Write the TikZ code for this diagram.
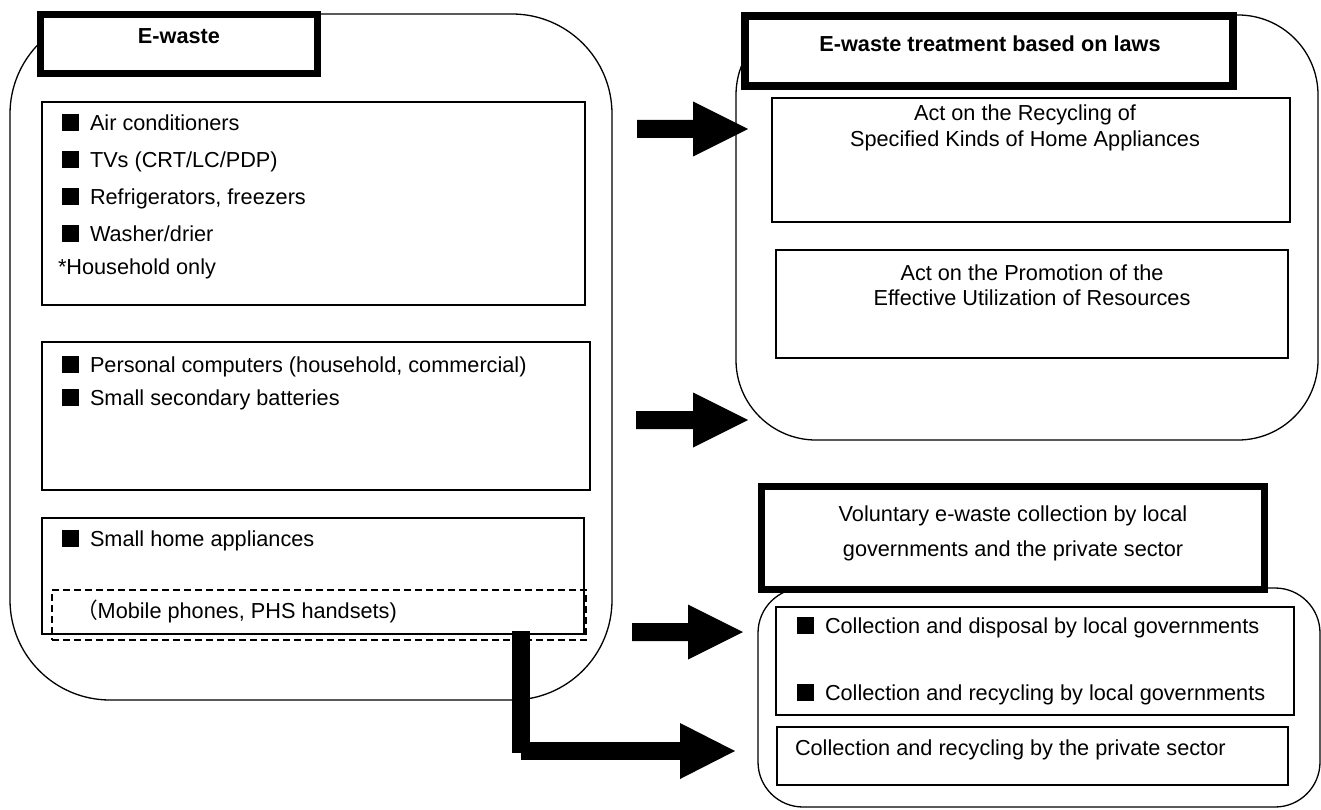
\documentclass[tikz,border=0pt]{standalone}
\usepackage{fontspec}
\setmainfont{Liberation Sans}
\newfontfamily\cjkfont{Noto Sans CJK JP}
\usetikzlibrary{calc}
\newcommand\bul{\rule[-0.5pt]{17pt}{17pt}\hspace{11pt}}
\newcommand\BlockArr[2]{\fill ($(#1 |- #2)+(0,-9)$) -- ($(#2)+(-55,-9)$) -- ($(#2)+(-55,-27.5)$) -- (#2) -- ($(#2)+(-55,27.5)$) -- ($(#2)+(-55,9)$) -- ($(#1 |- #2)+(0,9)$) -- cycle;}
\begin{document}
\begin{tikzpicture}[x=1pt,y=-1pt,
  every node/.style={inner sep=0pt, outer sep=0pt, font=\fontsize{21.7}{26}\selectfont},
  box/.style={draw, line width=1.3pt, anchor=north west},
  headbox/.style={draw, line width=7pt, fill=white, anchor=north west},
  groupbox/.style={draw, line width=1.3pt, anchor=north west},
  txt/.style={anchor=base west},
  ctxt/.style={anchor=base}]
\useasboundingbox (0,0) rectangle (1321,810);
% ---------- left group ----------
\node[groupbox, rounded corners=100pt, minimum width=602pt, minimum height=686pt] (ewaste) at (10,14) {};
\node[headbox, minimum width=277pt, minimum height=59pt] (ewhead) at (40.5,14.5) {};
\node[ctxt, font=\fontsize{21.7}{26}\selectfont\bfseries] (ewtitle) at (179,44) {E-waste};
\node[box, minimum width=543pt, minimum height=203pt] (box1) at (42,102) {};
\node[txt] (t11) at (62,131) {\bul Air conditioners};
\node[txt] (t12) at (62,168) {\bul TVs (CRT/LC/PDP)};
\node[txt] (t13) at (62,205) {\bul Refrigerators, freezers};
\node[txt] (t14) at (62,241) {\bul Washer/drier};
\node[txt] (t15) at (58,274) {*Household only};
\node[box, minimum width=548pt, minimum height=148pt] (box2) at (42,342) {};
\node[txt] (t21) at (62,372) {\bul Personal computers (household, commercial)};
\node[txt] (t22) at (62,405) {\bul Small secondary batteries};
\node[box, minimum width=542pt, minimum height=116pt] (box3) at (42,518) {};
\node[txt] (t31) at (62,546) {\bul Small home appliances};
\node[box, dash pattern=on 7pt off 4pt, minimum width=534pt, minimum height=50pt] (mob) at (52,590) {};
\node[txt] (t32) at (76,618) {{\cjkfont （}Mobile phones, PHS handsets)};
% ---------- right top group ----------
\node[groupbox, rounded corners=80pt, minimum width=582pt, minimum height=425pt] (laws) at (736,15) {};
\node[headbox, line width=8pt, minimum width=488pt, minimum height=70pt] (lawhead) at (745,16) {};
\node[ctxt, font=\fontsize{21.7}{26}\selectfont\bfseries] (lawtitle) at (990,52) {E-waste treatment based on laws};
\node[box, minimum width=518pt, minimum height=124pt] (act1) at (772,98) {};
\node[ctxt] (a11) at (1025,121) {Act on the Recycling of};
\node[ctxt] (a12) at (1025,147) {Specified Kinds of Home Appliances};
\node[box, minimum width=512pt, minimum height=108pt] (act2) at (776,250) {};
\node[ctxt] (a21) at (1032,280) {Act on the Promotion of the};
\node[ctxt] (a22) at (1032,305) {Effective Utilization of Resources};
% ---------- right bottom group ----------
\node[groupbox, rounded corners=45pt, minimum width=562pt, minimum height=219pt] (vol) at (758,588) {};
\node[headbox, minimum width=503pt, minimum height=103pt] (volhead) at (761.5,486.5) {};
\node[ctxt] (v1) at (1013,521) {Voluntary e-waste collection by local};
\node[ctxt] (v2) at (1013,556) {governments and the private sector};
\node[box, minimum width=518pt, minimum height=108pt] (boxA) at (776,607) {};
\node[txt] (tA1) at (797,633) {\bul Collection and disposal by local governments};
\node[txt] (tA2) at (797,700) {\bul Collection and recycling by local governments};
\node[box, minimum width=511pt, minimum height=58pt] (boxB) at (777,727) {};
\node[txt] (tB) at (795,755) {Collection and recycling by the private sector};
% ---------- arrows ----------
\coordinate (s1) at (637,129); \coordinate (e1) at (748,129);
\coordinate (s2) at (636,420); \coordinate (e2) at (748,420);
\coordinate (s3) at (632,632); \coordinate (e3) at (743,632);
\coordinate (ls) at (521,631); \coordinate (le) at (735,751);
\BlockArr{s1}{e1}
\BlockArr{s2}{e2}
\BlockArr{s3}{e3}
\fill ($(ls)+(-9,0)$) rectangle ($(ls |- le)+(9,2)$);
\fill ($(ls |- le)+(0,-9)$) rectangle ($(le)+(-55,9)$);
\fill ($(le)+(-55,-28)$) -- (le) -- ($(le)+(-55,28)$) -- cycle;
\end{tikzpicture}
\end{document}
